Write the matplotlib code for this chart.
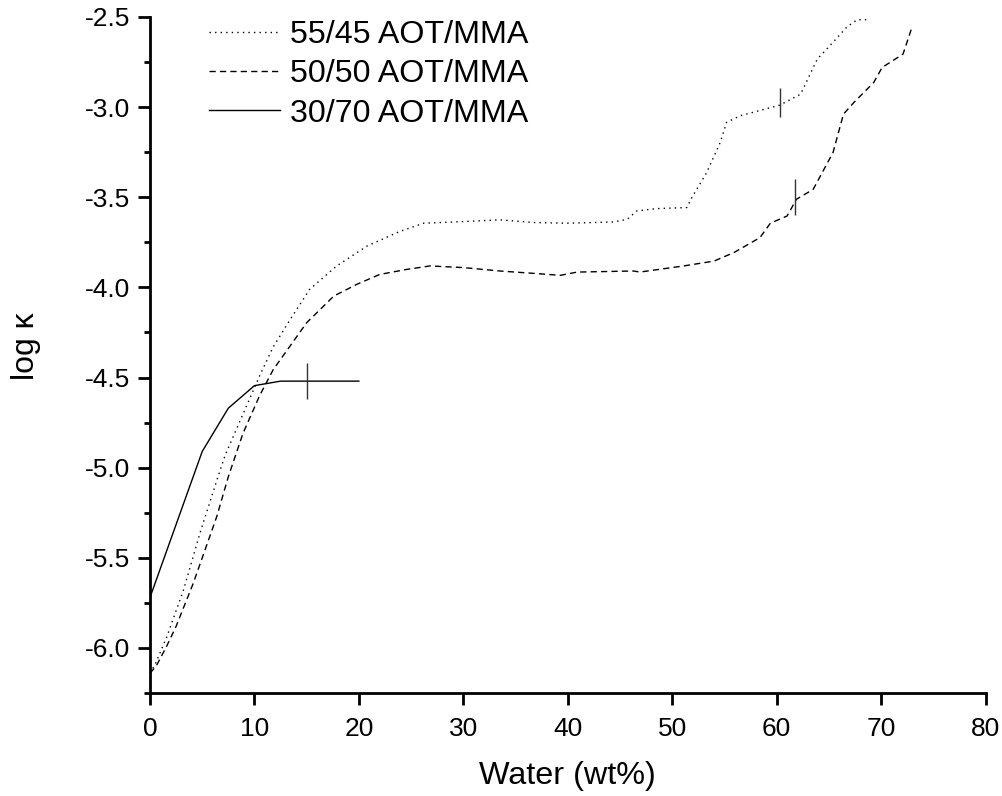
import numpy as np
import matplotlib
matplotlib.use('Agg')
import matplotlib.pyplot as plt
from matplotlib.ticker import MultipleLocator

plt.rcParams['font.family'] = ['Liberation Sans', 'DejaVu Sans']

# 55/45 AOT/MMA (punteada)
x_5545 = [0, 0.5, 1.6, 3.2, 4.8, 6.4, 7.2, 8.7, 10.5, 11.8, 13.4, 15.3, 17.9, 20.8,
          23.9, 26.2, 30, 33.5, 36.7, 39.9, 44.4, 45.7, 46.6, 48.5, 51.4, 51.9, 53.3,
          54.6, 55.2, 56.5, 60.3, 62.3, 62.9, 63.9, 65.1, 66.7, 67.7, 68.6]
y_5545 = [-6.14, -6.09, -5.94, -5.68, -5.36, -5.07, -4.93, -4.73, -4.49, -4.33, -4.18,
          -4.01, -3.88, -3.77, -3.69, -3.644, -3.635, -3.625, -3.64, -3.644, -3.637,
          -3.622, -3.576, -3.563, -3.557, -3.50, -3.363, -3.196, -3.085, -3.048, -2.989,
          -2.928, -2.854, -2.733, -2.659, -2.557, -2.515, -2.515]

# 50/50 AOT/MMA (discontinua)
x_5050 = [0, 0.6, 1.6, 2.5, 4.15, 6.4, 7.5, 8.9, 10.5, 11.8, 13.4, 15.0, 17.6, 19.8,
          22.0, 24.6, 26.8, 30, 33.5, 36.7, 39.3, 40.9, 46.3, 46.9, 51.1, 54.0, 55.9,
          58.4, 59.4, 61.0, 61.9, 63.5, 65.4, 66.4, 67.4, 69.3, 70.1, 72.1, 72.9]
y_5050 = [-6.14, -6.10, -5.99, -5.88, -5.64, -5.27, -5.05, -4.81, -4.60, -4.456, -4.326,
          -4.196, -4.048, -3.983, -3.928, -3.90, -3.881, -3.89, -3.909, -3.922, -3.933,
          -3.915, -3.909, -3.915, -3.881, -3.854, -3.807, -3.724, -3.644, -3.604, -3.511,
          -3.456, -3.252, -3.039, -2.974, -2.863, -2.78, -2.706, -2.567]

# 30/70 AOT/MMA (continua)
x_3070 = [0, 5, 7.5, 10, 12.5, 15, 20]
y_3070 = [-5.72, -4.91, -4.67, -4.545, -4.52, -4.52, -4.52]

# barras de error
err_x = [60.3, 61.8, 15]
err_y = [-2.976, -3.50, -4.52]
err_dy = [0.08, 0.10, 0.10]

fig = plt.figure(figsize=(10.03, 7.96), dpi=100)
ax = fig.add_axes([150/1003, 1 - 693/796, (985.5 - 150)/1003, (693 - 17)/796])

ax.plot(x_5545, y_5545, color='black', lw=1, ls=(0, (1, 3)), label='55/45 AOT/MMA')
ax.plot(x_5050, y_5050, color='black', lw=1, ls=(0, (4.5, 3)), label='50/50 AOT/MMA')
ax.plot(x_3070, y_3070, color='black', lw=1, ls='-', label='30/70 AOT/MMA')
ax.errorbar(err_x, err_y, yerr=err_dy, fmt='none', ecolor='#333333', elinewidth=1, capsize=0)

ax.set_xlim(0, 80)
ax.set_ylim(-6.25, -2.5)
ax.xaxis.set_major_locator(MultipleLocator(10))
ax.yaxis.set_major_locator(MultipleLocator(0.5))
ax.yaxis.set_minor_locator(MultipleLocator(0.25))
ax.yaxis.set_major_formatter(matplotlib.ticker.FormatStrFormatter('%.1f'))

for s in ['top', 'right']:
    ax.spines[s].set_visible(False)
for s in ['left', 'bottom']:
    ax.spines[s].set_linewidth(2)
ax.tick_params(which='major', direction='out', length=8.5, width=2, labelsize=19, pad=5.5)
ax.tick_params(axis='x', which='major', pad=9)
ax.tick_params(which='minor', direction='out', length=4.5, width=2)

ax.set_xlabel('Water (wt%)', fontsize=23.3, labelpad=14)
ax.set_ylabel('log κ', fontsize=23)
ax.yaxis.set_label_coords(-0.1305, 0.513)

ax.legend(loc='upper left', bbox_to_anchor=(209/1003, 1 - 20/796),
          bbox_transform=fig.transFigure, frameon=False, fontsize=23.2,
          handlelength=2.2, handletextpad=0.3, labelspacing=0.29,
          borderpad=0, borderaxespad=0)

plt.savefig('out.png', dpi=100)
